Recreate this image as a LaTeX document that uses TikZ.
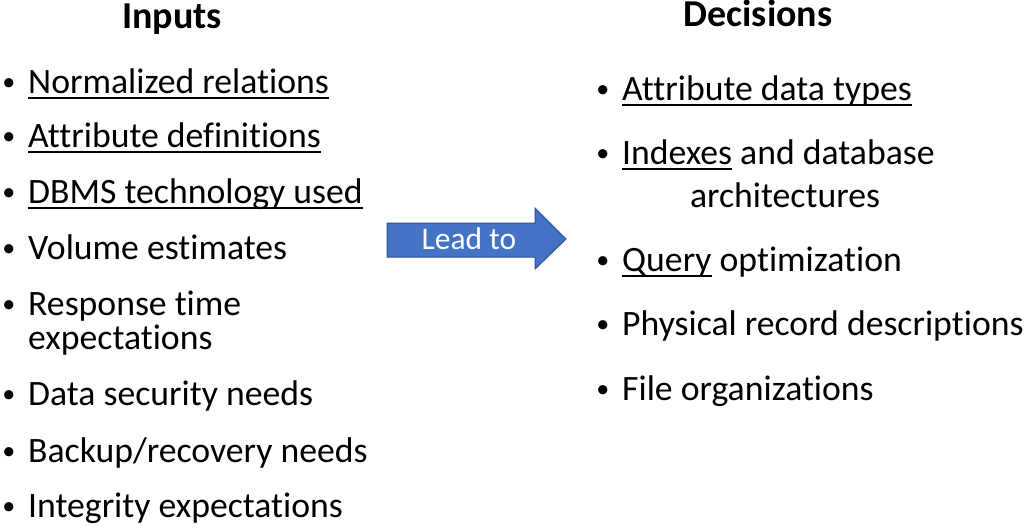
\documentclass[tikz,border=0pt]{standalone}
\usepackage{fontspec}
\setmainfont[Ligatures=NoCommon]{Carlito}
\definecolor{arrowfill}{HTML}{4472C4}
\definecolor{arrowline}{HTML}{2F528F}
\newcommand\myul[1]{\setbox0\hbox{#1}\rlap{\rule[-6pt]{\wd0}{1.8pt}}\box0\relax}
\newcommand\mybul{\llap{\raisebox{2.5pt}{\fontsize{26}{26}\selectfont\textbullet}\hspace{13pt}}}
\begin{document}
\begin{tikzpicture}[x=1pt,y=-1pt,
  title/.style={anchor=base, inner sep=0pt, font=\fontsize{38}{44}\selectfont\bfseries},
  item/.style={anchor=base west, inner sep=0pt, font=\fontsize{35.7}{42}\selectfont},
  cont/.style={anchor=base, inner sep=0pt, font=\fontsize{35.7}{42}\selectfont},
  arrowshape/.style={fill=arrowfill, draw=arrowline, line width=1pt, line join=miter},
  arrowtext/.style={anchor=base, inner sep=0pt, text=white, font=\fontsize{31.5}{36}\selectfont}]
\useasboundingbox (0,0) rectangle (1024,527);
\fill[white] (0,0) rectangle (1024,527);
% Titles
\node[title] (inputs) at (172,29) {Inputs};
\node[title] (decisions) at (758,27) {Decisions};
% Left list
\node[item] (i1) at (28,93) {\mybul\myul{Normalized relations}};
\node[item] (i2) at (28,147) {\mybul\myul{Attribute definitions}};
\node[item] (i3) at (28,203) {\mybul\myul{DBMS technology used}};
\node[item] (i4) at (28,259) {\mybul Volume estimates};
\node[item] (i5) at (28,315) {\mybul Response time};
\node[item] (i5b) at (28,349) {expectations};
\node[item] (i6) at (28,405) {\mybul Data security needs};
\node[item] (i7) at (28,462) {\mybul Backup/recovery needs};
\node[item] (i8) at (28,517) {\mybul Integrity expectations};
% Right list
\node[item] (d1) at (622,100) {\mybul\myul{Attribute data types}};
\node[item] (d2) at (622,164) {\mybul\myul{Indexes} and database};
\node[cont] (d2b) at (785,207) {architectures};
\node[item] (d3) at (622,271) {\mybul\myul{Query} optimization};
\node[item] (d4) at (622,335) {\mybul Physical record descriptions};
\node[item] (d5) at (622,400) {\mybul File organizations};
% Arrow
\coordinate (a1) at (387,223);
\coordinate (a2) at (535,223);
\coordinate (a3) at (535,208);
\coordinate (tip) at (566,239);
\coordinate (a5) at (535,269);
\coordinate (a6) at (535,257);
\coordinate (a7) at (387,257);
\path[arrowshape] (a1) -- (a2) -- (a3) -- (tip) -- (a5) -- (a6) -- (a7) -- cycle;
\node[arrowtext] (lead) at (469,249) {Lead to};
\end{tikzpicture}
\end{document}
